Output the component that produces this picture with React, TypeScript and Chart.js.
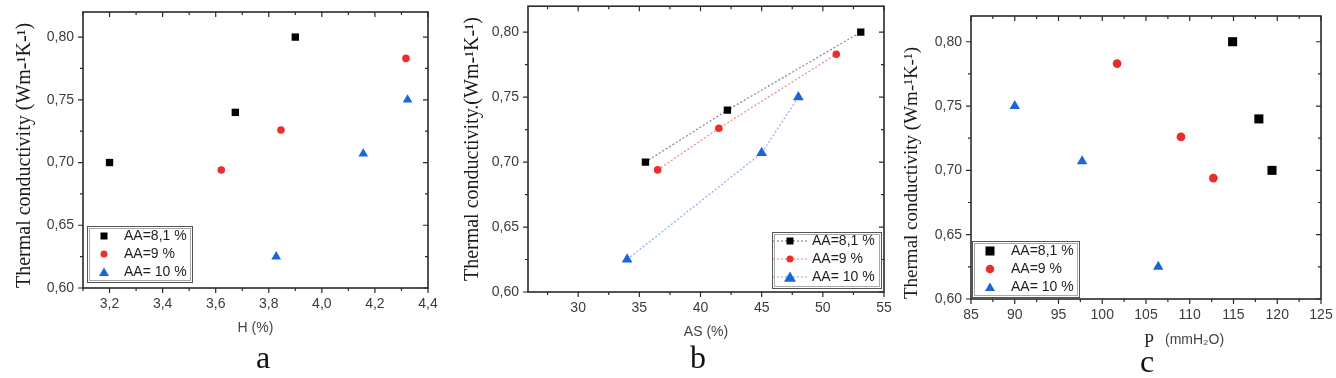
import React, { useEffect, useRef } from 'react';
import { Chart, registerables } from 'chart.js';

Chart.register(...registerables);

// ---------- data ----------
const seriesLabels = ['AA=8,1 %', 'AA=9 %', 'AA= 10 %'];

// thermal conductivity (W m-1 K-1) of each series
const kAA81 = [0.700, 0.740, 0.800];
const kAA9 = [0.694, 0.726, 0.783];
const kAA10 = [0.625, 0.707, 0.750];

// panel a : H (%)
const hAA81 = [3.20, 3.674, 3.90];
const hAA9 = [3.621, 3.846, 4.317];
const hAA10 = [3.828, 4.156, 4.323];

// panel b : AS (%)
const asAA81 = [35.5, 42.2, 53.1];
const asAA9 = [36.5, 41.5, 51.1];
const asAA10 = [34.0, 45.0, 48.0];

// panel c : P (mmH2O)
const pAA81 = [119.4, 117.9, 114.9];
const pAA9 = [112.7, 109.0, 101.7];
const pAA10 = [106.4, 97.7, 90.0];

// tick labels
const yTicks = [0.60, 0.65, 0.70, 0.75, 0.80];
const hTicks = [3.2, 3.4, 3.6, 3.8, 4.0, 4.2, 4.4];
const asTicks = [30, 35, 40, 45, 50, 55];
const pTicks = [85, 90, 95, 100, 105, 110, 115, 120, 125];

const kSeries = [kAA81, kAA9, kAA10];

// ---------- styles ----------
const COLORS = ['#000000', '#ec2d2d', '#1c64dc'];
const LINE_COLORS = ['#8c8c8c', '#f29090', '#8fb4f2'];
const STYLES = ['rect', 'circle', 'triangle'];
const SANS = "'Liberation Sans', Arial, sans-serif";
const SERIF = "'Liberation Serif', 'Times New Roman', serif";
const H = 378;

Chart.defaults.font.family = SANS;

type PanelCfg = {
  left: number;
  width: number;
  yAxisWidth: number;
  padTop: number;
  padRight: number;
  xAxisHeight: number;
  xValues: number[][];
  xMin: number;
  xMax: number;
  xTicks: number[];
  xMinor: number;
  xDigits: number;
  xTitle: string;
  xTitlePad: number;
  customXTitle: boolean;
  yTitle: string;
  yTitlePad: number;
  yTitleAlign: 'start' | 'center' | 'end';
  yTitleSize: number;
  radii: number[];
  showLine: boolean;
  legendLeft: number;
  legendTop: number;
  legendBox: [number, number, number, number];
  legendSymbolWidth: number;
  iconWidth: number;
  iconSizes: number[];
  iconLine: boolean;
};

const panels: PanelCfg[] = [
  {
    left: 0, width: 440, yAxisWidth: 83, padTop: 12, padRight: 12, xAxisHeight: 90,
    xValues: [hAA81, hAA9, hAA10], xMin: 3.1, xMax: 4.4, xTicks: hTicks, xMinor: 0.1, xDigits: 1,
    xTitle: 'H (%)', xTitlePad: 41.6, customXTitle: false,
    yTitle: 'Thermal conductivity (Wm-¹K-¹)', yTitlePad: 13, yTitleAlign: 'start', yTitleSize: 20,
    radii: [5.2, 3.8, 5.6], showLine: false,
    legendLeft: 87, legendTop: 225, legendBox: [87, 226, 105, 56], legendSymbolWidth: 26,
    iconWidth: 26, iconSizes: [7, 7, 10], iconLine: false,
  },
  {
    left: 440, width: 460, yAxisWidth: 88, padTop: 5, padRight: 16, xAxisHeight: 86,
    xValues: [asAA81, asAA9, asAA10], xMin: 25.9, xMax: 55, xTicks: asTicks, xMinor: 2.5, xDigits: 0,
    xTitle: 'AS (%)', xTitlePad: 37.6, customXTitle: false,
    yTitle: 'Thermal conductivity.(Wm-¹K-¹)', yTitlePad: 21, yTitleAlign: 'center', yTitleSize: 20,
    radii: [5.2, 3.8, 6.2], showLine: true,
    legendLeft: 331, legendTop: 230, legendBox: [332, 232, 109, 56], legendSymbolWidth: 30,
    iconWidth: 34, iconSizes: [7, 7, 12], iconLine: true,
  },
  {
    left: 890, width: 446, yAxisWidth: 81, padTop: 16, padRight: 15, xAxisHeight: 79,
    xValues: [pAA81, pAA9, pAA10], xMin: 85, xMax: 125, xTicks: pTicks, xMinor: 2.5, xDigits: 0,
    xTitle: '(mmH₂O)', xTitlePad: 0, customXTitle: true,
    yTitle: 'Thermal conductivity (Wm-¹K-¹)', yTitlePad: 11, yTitleAlign: 'start', yTitleSize: 19,
    radii: [6.4, 4.4, 6.0], showLine: false,
    legendLeft: 82, legendTop: 240, legendBox: [82, 241, 107, 56], legendSymbolWidth: 28,
    iconWidth: 28, iconSizes: [9, 8.5, 10], iconLine: false,
  },
];

const panelLetters = [
  { text: 'a', cx: 263, baseline: 368 },
  { text: 'b', cx: 698, baseline: 368 },
  { text: 'c', cx: 1147, baseline: 372 },
];

function makeIcon(w: number, idx: number, size: number, withLine: boolean) {
  const c = document.createElement('canvas');
  c.width = w;
  c.height = 14;
  const g = c.getContext('2d')!;
  const cx = w / 2;
  const cy = 7;
  if (withLine) {
    g.strokeStyle = LINE_COLORS[idx];
    g.lineWidth = 1.2;
    g.setLineDash([2, 2]);
    g.beginPath();
    g.moveTo(0, cy);
    g.lineTo(w, cy);
    g.stroke();
    g.setLineDash([]);
  }
  g.fillStyle = COLORS[idx];
  if (idx === 0) {
    g.fillRect(cx - size / 2, cy - size / 2, size, size);
  } else if (idx === 1) {
    g.beginPath();
    g.arc(cx, cy, size / 2, 0, Math.PI * 2);
    g.fill();
  } else {
    g.beginPath();
    g.moveTo(cx, cy - size * 0.45);
    g.lineTo(cx + size / 2, cy + size * 0.4);
    g.lineTo(cx - size / 2, cy + size * 0.4);
    g.closePath();
    g.fill();
  }
  return c;
}

const framePlugin = {
  id: 'frameTicks',
  afterDatasetsDraw(chart: any, _args: any, opts: any) {
    const { ctx, chartArea: a } = chart;
    const xs = chart.scales.x;
    const ys = chart.scales.y;
    const major = 5;
    const minor = 3;
    const stepVals = (min: number, max: number, step: number) => {
      const out: number[] = [];
      for (let k = Math.ceil(min / step - 1e-6); k * step <= max + 1e-9; k++) out.push(k * step);
      return out;
    };
    const isMajor = (v: number, ticks: any[], step: number) =>
      ticks.some((t: any) => Math.abs(t.value - v) < step * 1e-3);
    ctx.save();
    ctx.strokeStyle = '#2a2a2a';
    ctx.lineWidth = 1.2;
    ctx.beginPath();
    for (const v of stepVals(xs.min, xs.max, opts.xMinor)) {
      const len = isMajor(v, xs.ticks, opts.xMinor) ? major : minor;
      const p = xs.getPixelForValue(v);
      ctx.moveTo(p, a.bottom);
      ctx.lineTo(p, a.bottom + len);
      ctx.moveTo(p, a.top);
      ctx.lineTo(p, a.top + len);
    }
    for (const v of stepVals(ys.min, ys.max, opts.yMinor)) {
      const len = isMajor(v, ys.ticks, opts.yMinor) ? major : minor;
      const p = ys.getPixelForValue(v);
      ctx.moveTo(a.left, p);
      ctx.lineTo(a.left - len, p);
      ctx.moveTo(a.right, p);
      ctx.lineTo(a.right - len, p);
    }
    ctx.stroke();
    ctx.lineWidth = 1.6;
    ctx.strokeRect(a.left, a.top, a.right - a.left, a.bottom - a.top);
    ctx.restore();
  },
};

const legendPlacer = {
  id: 'legendPlacer',
  beforeDraw(chart: any, _args: any, opts: any) {
    const lg = chart.legend;
    if (!lg) return;
    lg.left = opts.left;
    lg.top = opts.top;
    lg.right = opts.left + lg.width + 20;
    lg.bottom = opts.top + 300;
  },
  afterDraw(chart: any, _args: any, opts: any) {
    const { ctx } = chart;
    const [x, y, w, h] = opts.box;
    ctx.save();
    ctx.lineWidth = 1;
    ctx.strokeStyle = '#555555';
    ctx.strokeRect(x + 0.5, y + 0.5, w, h);
    ctx.strokeStyle = '#a8a8a8';
    ctx.strokeRect(x + 2.5, y + 2.5, w - 4, h - 4);
    ctx.restore();
  },
};

const customTitlePlugin = {
  id: 'customXTitle',
  afterDraw(chart: any, _args: any, opts: any) {
    if (!opts.enabled) return;
    const { ctx, chartArea: a } = chart;
    const cx = (a.left + a.right) / 2;
    ctx.save();
    ctx.fillStyle = '#2a2a2a';
    ctx.textBaseline = 'alphabetic';
    ctx.textAlign = 'center';
    ctx.font = `18px ${SERIF}`;
    ctx.fillText('P', cx + 3, 347);
    ctx.textAlign = 'left';
    ctx.fillStyle = '#444444';
    ctx.font = `14px ${SANS}`;
    ctx.fillText(opts.text, cx + 19, 344);
    ctx.restore();
  },
};

function Panel({ cfg }: { cfg: PanelCfg }) {
  const ref = useRef<HTMLCanvasElement>(null);
  useEffect(() => {
    const canvas = ref.current;
    if (!canvas) return;
    const icons = [0, 1, 2].map((i) => makeIcon(cfg.iconWidth, i, cfg.iconSizes[i], cfg.iconLine));
    const datasets = [0, 1, 2].map((i) => ({
      label: seriesLabels[i],
      data: cfg.xValues[i].map((x, j) => ({ x, y: kSeries[i][j] })),
      pointStyle: STYLES[i] as any,
      pointRadius: cfg.radii[i],
      pointBackgroundColor: COLORS[i],
      pointBorderColor: COLORS[i],
      pointBorderWidth: 0,
      backgroundColor: COLORS[i],
      borderColor: LINE_COLORS[i],
      borderWidth: 1.3,
      borderDash: [2, 2],
      showLine: cfg.showLine,
    }));
    const chart = new Chart(canvas, {
      type: 'scatter',
      data: { datasets },
      plugins: [framePlugin, legendPlacer, customTitlePlugin],
      options: {
        responsive: false,
        animation: false,
        events: [],
        layout: { padding: { left: 0, top: cfg.padTop, right: cfg.padRight, bottom: 0 } },
        scales: {
          x: {
            type: 'linear',
            min: cfg.xMin,
            max: cfg.xMax,
            grid: { display: false, drawTicks: false },
            border: { display: false },
            afterBuildTicks: (s: any) => {
              s.ticks = cfg.xTicks.map((v) => ({ value: v }));
            },
            afterFit: (s: any) => {
              s.height = cfg.xAxisHeight;
              s.paddingLeft = 0;
              s.paddingRight = 0;
            },
            ticks: {
              autoSkip: false,
              maxRotation: 0,
              minRotation: 0,
              padding: 8,
              color: '#3c3c3c',
              font: { size: 14, family: SANS },
              callback: (v: any) => Number(v).toFixed(cfg.xDigits).replace('.', ','),
            },
            title: {
              display: !cfg.customXTitle,
              text: cfg.xTitle,
              color: '#444444',
              font: { size: 14, family: SANS },
              padding: { top: 0, bottom: cfg.xTitlePad },
            },
          },
          y: {
            type: 'linear',
            min: 0.6,
            max: 0.82,
            grid: { display: false, drawTicks: false },
            border: { display: false },
            afterBuildTicks: (s: any) => {
              s.ticks = yTicks.map((v) => ({ value: v }));
            },
            afterFit: (s: any) => {
              s.width = cfg.yAxisWidth;
              s.paddingTop = 0;
              s.paddingBottom = 0;
            },
            ticks: {
              autoSkip: false,
              padding: 9,
              color: '#3c3c3c',
              font: { size: 14, family: SANS },
              callback: (v: any) => Number(v).toFixed(2).replace('.', ','),
            },
            title: {
              display: true,
              text: cfg.yTitle,
              align: cfg.yTitleAlign,
              color: '#1a1a1a',
              font: { size: cfg.yTitleSize, family: SERIF },
              padding: { top: cfg.yTitlePad, bottom: 0 },
            },
          },
        },
        plugins: {
          tooltip: { enabled: false },
          legend: {
            display: true,
            position: 'chartArea' as any,
            align: 'start',
            labels: {
              usePointStyle: true,
              pointStyleWidth: cfg.legendSymbolWidth,
              boxHeight: 14,
              padding: 4,
              color: '#1e1e1e',
              font: { size: 14, family: SANS },
              generateLabels: (c: any) =>
                c.data.datasets.map((ds: any, i: number) => ({
                  text: ds.label,
                  pointStyle: icons[i],
                  fillStyle: COLORS[i],
                  strokeStyle: COLORS[i],
                  fontColor: '#1e1e1e',
                  lineWidth: 0,
                  hidden: false,
                  datasetIndex: i,
                })),
            },
          },
          frameTicks: { xMinor: cfg.xMinor, yMinor: 0.025 },
          legendPlacer: { left: cfg.legendLeft, top: cfg.legendTop, box: cfg.legendBox },
          customXTitle: { enabled: cfg.customXTitle, text: cfg.xTitle },
        } as any,
      },
    });
    return () => chart.destroy();
  }, [cfg]);
  return (
    <canvas
      ref={ref}
      width={cfg.width}
      height={H}
      style={{ position: 'absolute', left: cfg.left, top: 0, width: cfg.width, height: H, display: 'block' }}
    />
  );
}

export default function App() {
  return (
    <div style={{ position: 'absolute', left: 0, top: 0, width: 1336, height: H, background: '#ffffff', overflow: 'hidden' }}>
      {panels.map((p, i) => (
        <Panel key={i} cfg={p} />
      ))}
      {panelLetters.map((l) => (
        <div
          key={l.text}
          style={{
            position: 'absolute',
            left: l.cx - 20,
            width: 40,
            top: l.baseline - 27,
            lineHeight: '32px',
            fontSize: 32,
            fontFamily: SERIF,
            textAlign: 'center',
            color: '#111111',
          }}
        >
          {l.text}
        </div>
      ))}
    </div>
  );
}
